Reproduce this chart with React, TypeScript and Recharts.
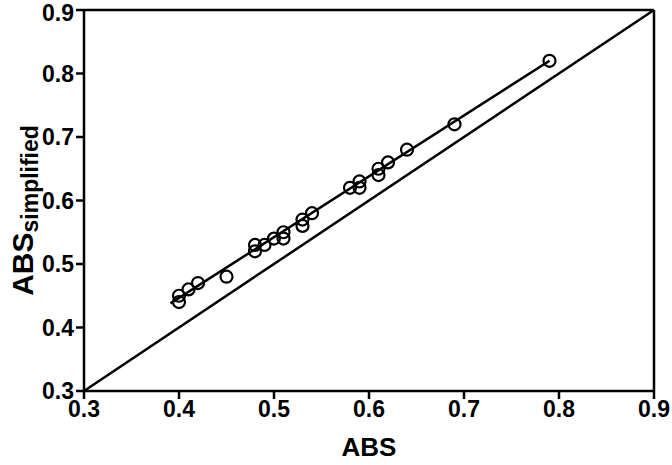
import React from "react";
import {
  ScatterChart,
  Scatter,
  XAxis,
  YAxis,
  ReferenceLine,
} from "recharts";

const absValues = [
  0.4, 0.4, 0.41, 0.42, 0.45, 0.48, 0.48, 0.49, 0.5, 0.51, 0.51, 0.53, 0.53,
  0.54, 0.58, 0.59, 0.59, 0.61, 0.61, 0.62, 0.64, 0.69, 0.79,
];
const absSimplified = [
  0.44, 0.45, 0.46, 0.47, 0.48, 0.53, 0.52, 0.53, 0.54, 0.55, 0.54, 0.57, 0.56,
  0.58, 0.62, 0.63, 0.62, 0.65, 0.64, 0.66, 0.68, 0.72, 0.82,
];
const axisTicks = [0.3, 0.4, 0.5, 0.6, 0.7, 0.8, 0.9];
const fitLine = [
  { x: 0.391, y: 0.438 },
  { x: 0.79, y: 0.82 },
];
const identityLine = [
  { x: 0.3, y: 0.3 },
  { x: 0.9, y: 0.9 },
];

const points = absValues.map((x, i) => ({ x, y: absSimplified[i] }));

const FONT = "'Liberation Sans', Arial, sans-serif";

const OpenCircle = (props: any) => (
  <circle cx={props.cx} cy={props.cy} r={6} fill="none" stroke="#000" strokeWidth={2.2} />
);

const YLabel = (props: any) => {
  const { viewBox } = props;
  const cx = 22;
  const cy = viewBox.y + viewBox.height / 2 + 10;
  return (
    <text
      x={cx}
      y={cy}
      transform={`rotate(-90 ${cx} ${cy})`}
      textAnchor="middle"
      dominantBaseline="central"
      fontFamily={FONT}
      fontWeight="bold"
      fontSize={30}
      fill="#000"
    >
      <tspan>ABS</tspan>
      <tspan fontSize={23} dy={8}>simplified</tspan>
    </text>
  );
};

export default function App() {
  const tick = { fontFamily: FONT, fontWeight: "bold", fontSize: 23, fill: "#000" };
  return (
    <div style={{ position: "absolute", left: 0, top: 0, background: "#fff" }}>
      <ScatterChart
        width={672}
        height={465}
        margin={{ top: 10, right: 18, bottom: 0, left: 0 }}
      >
        <XAxis
          type="number"
          dataKey="x"
          domain={[0.3, 0.9]}
          ticks={axisTicks}
          tickFormatter={(v: number) => v.toFixed(1)}
          allowDataOverflow
          height={74}
          tick={tick}
          tickSize={8}
          tickMargin={2}
          axisLine={{ stroke: "#000", strokeWidth: 2.5 }}
          tickLine={{ stroke: "#000", strokeWidth: 2.5 }}
          label={{
            value: "ABS",
            position: "insideBottom",
            offset: 9,
            style: { fontFamily: FONT, fontWeight: "bold", fontSize: 26, fill: "#000" },
          }}
        />
        <YAxis
          type="number"
          dataKey="y"
          domain={[0.3, 0.9]}
          ticks={axisTicks}
          tickFormatter={(v: number) => v.toFixed(1)}
          allowDataOverflow
          width={84}
          tick={tick}
          tickSize={8}
          tickMargin={2}
          axisLine={{ stroke: "#000", strokeWidth: 2.5 }}
          tickLine={{ stroke: "#000", strokeWidth: 2.5 }}
          label={<YLabel />}
        />
        <ReferenceLine x={0.9} stroke="#000" strokeWidth={2.5} />
        <ReferenceLine y={0.9} stroke="#000" strokeWidth={2.5} />
        <ReferenceLine segment={identityLine} stroke="#000" strokeWidth={2.5} />
        <ReferenceLine segment={fitLine} stroke="#000" strokeWidth={2.5} />
        <Scatter
          data={points}
          shape={OpenCircle}
          isAnimationActive={false}
        />
      </ScatterChart>
    </div>
  );
}
